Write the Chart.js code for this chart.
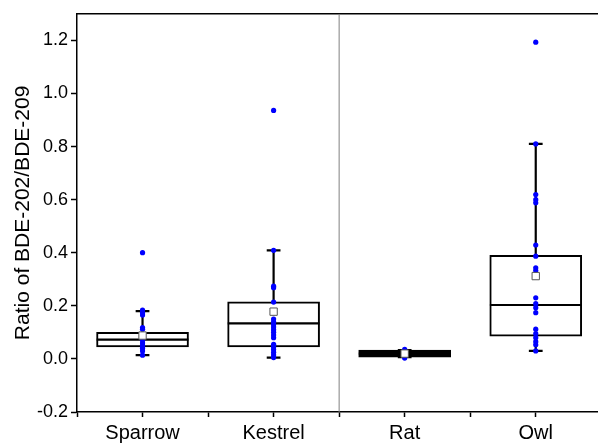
<!DOCTYPE html>
<html>
<head>
<meta charset="utf-8">
<script src="https://cdn.jsdelivr.net/npm/chart.js@4.4.0/dist/chart.umd.min.js"></script>
<style>
    html, body { margin: 0; padding: 0; background: #fff; overflow: hidden; }
    #wrap { width: 598px; height: 443px; }
</style>
</head>
<body>
<div id="wrap"><canvas id="ratioChart"></canvas></div>
<script>
// Categories and where they sit on the x axis
const species = ['Sparrow', 'Kestrel', 'Rat', 'Owl'];
const positions = [1, 3, 5, 7];

// Box statistics
const whiskerLow = [0.014, 0.005, 0.007, 0.030];
const quartile1 = [0.045, 0.045, 0.007, 0.086];
const medians = [0.073, 0.134, 0.020, 0.203];
const quartile3 = [0.100, 0.215, 0.033, 0.390];
const whiskerHigh = [0.180, 0.409, 0.033, 0.810];
const means = [0.088, 0.178, 0.020, 0.312];

// Individual samples
const sparrowPoints = [0.400, 0.184, 0.174, 0.165, 0.118, 0.112, 0.070, 0.060, 0.050, 0.045, 0.040, 0.030, 0.014];
const kestrelPoints = [0.936, 0.409, 0.274, 0.268, 0.214, 0.150, 0.140, 0.130, 0.120, 0.110, 0.100, 0.090, 0.080, 0.055, 0.045, 0.035, 0.025, 0.015, 0.005];
const ratPoints = [0.003, 0.012, 0.016, 0.020, 0.024, 0.036];
const owlPoints = [1.193, 0.810, 0.619, 0.600, 0.588, 0.429, 0.387, 0.343, 0.333, 0.230, 0.208, 0.193, 0.174, 0.112, 0.095, 0.080, 0.065, 0.053, 0.030];

// Ticks
const yTicks = [-0.2, 0.0, 0.2, 0.4, 0.6, 0.8, 1.0, 1.2];
const xTicks = [0, 1, 2, 3, 4, 5, 6, 7];
const dividerAt = 4;

document.addEventListener('DOMContentLoaded', function() {
    const fontFamily = 'Arial, "Liberation Sans", sans-serif';
    const halfBox = 0.7;
    const halfCap = 0.105;

    const allPoints = [sparrowPoints, kestrelPoints, ratPoints, owlPoints];
    const pointData = [];
    allPoints.forEach((list, i) => {
        list.forEach(v => pointData.push({ x: positions[i], y: v }));
    });

    // Line segments separated by gaps
    const whiskerData = [];
    const capData = [];
    const medianData = [];
    positions.forEach((x, i) => {
        whiskerData.push({ x: x, y: whiskerLow[i] }, { x: x, y: quartile1[i] }, { x: x, y: null });
        whiskerData.push({ x: x, y: quartile3[i] }, { x: x, y: whiskerHigh[i] }, { x: x, y: null });
        capData.push({ x: x - halfCap, y: whiskerLow[i] }, { x: x + halfCap, y: whiskerLow[i] }, { x: x, y: null });
        capData.push({ x: x - halfCap, y: whiskerHigh[i] }, { x: x + halfCap, y: whiskerHigh[i] }, { x: x, y: null });
        medianData.push({ x: x - halfBox, y: medians[i] }, { x: x + halfBox, y: medians[i] }, { x: x, y: null });
    });

    const lineStyle = {
        type: 'line',
        borderColor: '#000',
        borderWidth: 2.2,
        pointRadius: 0,
        fill: false,
        tension: 0,
        spanGaps: false
    };

    new Chart(document.getElementById('ratioChart'), {
        type: 'scatter',
        data: {
            datasets: [
                {
                    label: 'Mean',
                    data: positions.map((x, i) => ({ x: x, y: means[i] })),
                    pointStyle: 'rect',
                    pointRadius: 5.2,
                    backgroundColor: '#fff',
                    borderColor: '#555',
                    borderWidth: 1
                },
                {
                    label: 'Samples',
                    data: pointData,
                    pointRadius: 2.6,
                    backgroundColor: '#0000ff',
                    borderWidth: 0
                },
                Object.assign({ label: 'Whiskers', data: whiskerData }, lineStyle),
                Object.assign({ label: 'Caps', data: capData }, lineStyle),
                Object.assign({ label: 'Median', data: medianData }, lineStyle),
                {
                    type: 'bar',
                    label: 'Box',
                    data: positions.map((x, i) => ({ x: x, y: [quartile1[i], quartile3[i]] })),
                    backgroundColor: '#fff',
                    borderColor: '#000',
                    borderWidth: [2, 2, 5, 2],
                    borderSkipped: false,
                    barThickness: 92
                },
                {
                    type: 'line',
                    label: 'Divider',
                    data: [{ x: dividerAt, y: -0.2 }, { x: dividerAt, y: 1.3 }],
                    borderColor: '#808080',
                    borderWidth: 1,
                    pointRadius: 0,
                    fill: false
                }
            ]
        },
        options: {
            responsive: true,
            maintainAspectRatio: false,
            animation: false,
            layout: {
                autoPadding: false,
                padding: { top: 12, left: 0, right: 0, bottom: 0 }
            },
            plugins: {
                legend: { display: false },
                tooltip: { enabled: false }
            },
            scales: {
                x: {
                    type: 'linear',
                    min: 0,
                    max: 7.95,
                    offset: false,
                    afterBuildTicks: axis => { axis.ticks = xTicks.map(v => ({ value: v })); },
                    afterFit: axis => { axis.height = 31; },
                    ticks: {
                        autoSkip: false,
                        maxRotation: 0,
                        padding: 4,
                        color: '#000',
                        font: { family: fontFamily, size: 20 },
                        callback: function(value) {
                            const idx = positions.indexOf(value);
                            return idx >= 0 ? species[idx] : '';
                        }
                    },
                    grid: {
                        offset: false,
                        drawOnChartArea: false,
                        drawTicks: true,
                        tickLength: 5,
                        tickColor: '#000',
                        tickWidth: 1.5
                    },
                    border: { display: true, color: '#000', width: 1.5 }
                },
                x2: {
                    type: 'linear',
                    position: 'top',
                    min: 0,
                    max: 1,
                    afterBuildTicks: axis => { axis.ticks = []; },
                    afterFit: axis => { axis.height = 0; },
                    ticks: { display: false },
                    grid: { display: false, drawTicks: false },
                    border: { display: true, color: '#000', width: 1.5 }
                },
                y: {
                    min: -0.2,
                    max: 1.3,
                    afterBuildTicks: axis => { axis.ticks = yTicks.map(v => ({ value: v })); },
                    afterFit: axis => { axis.width = 77; },
                    ticks: {
                        padding: 3,
                        color: '#000',
                        font: { family: fontFamily, size: 18 },
                        callback: value => value.toFixed(1)
                    },
                    grid: {
                        drawOnChartArea: false,
                        drawTicks: true,
                        tickLength: 6,
                        tickColor: '#000',
                        tickWidth: 1.5
                    },
                    border: { display: true, color: '#000', width: 1.5 },
                    title: {
                        display: true,
                        text: 'Ratio of BDE-202/BDE-209',
                        color: '#000',
                        font: { family: fontFamily, size: 21 },
                        padding: { top: 11, bottom: 0 }
                    }
                }
            }
        }
    });
});
</script>
</body>
</html>
